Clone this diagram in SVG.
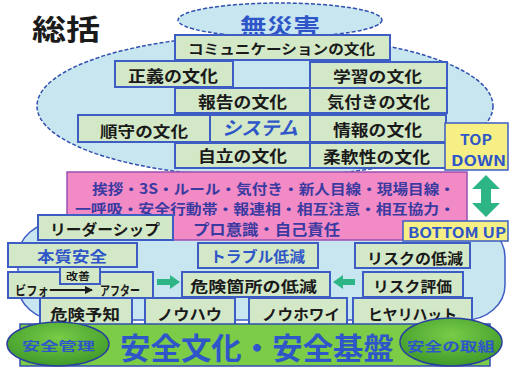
<svg xmlns="http://www.w3.org/2000/svg" width="510" height="368" viewBox="0 0 510 368">
<defs>
<style>
.t{font-family:"Noto Sans CJK JP","Noto Sans",sans-serif;font-weight:bold;fill:#1a1a1a;text-anchor:start}
.b{fill:#2f56c8}
.p{fill:#3a3aa0}
.box{fill:#d3e8c6;stroke:#3d5cc4;stroke-width:2}
.yel{fill:#f6ef86;stroke:#3d5cc4;stroke-width:1.5}
.teal{fill:#2db585}
.ell{fill:url(#gg);stroke:#2a40a0;stroke-width:1.5}
</style>
<radialGradient id="gg" cx="0.5" cy="0.35" r="0.65">
<stop offset="0" stop-color="#78cc48"/>
<stop offset="1" stop-color="#3f9a2a"/>
</radialGradient>
<marker id="ah" markerWidth="8" markerHeight="8" refX="7" refY="4" orient="auto" markerUnits="userSpaceOnUse">
<path d="M0,0 L8,4 L0,8 Z" fill="#1a1a1a"/>
</marker>
</defs>
<rect width="510" height="368" fill="#ffffff"/>
<g id="title"><text class="t" x="32" y="40" font-size="28" textLength="68" lengthAdjust="spacingAndGlyphs">総括</text></g>
<g id="bg">
<ellipse cx="265" cy="106" rx="228" ry="71" fill="#c8e6ef" stroke="#3050b0" stroke-width="1.5" stroke-dasharray="4 2"/>
<rect x="18" y="222" width="487" height="98" rx="40" ry="35" fill="#c8e6ef" stroke="#3d5cc4" stroke-width="1.5"/>
</g>
<g id="n-musaigai">
<ellipse cx="280" cy="20" rx="102" ry="17" fill="#c8e6ef" stroke="#3050b0" stroke-width="1.5" stroke-dasharray="4 2"/>
<text class="t b" x="240" y="34" font-size="22" textLength="80" lengthAdjust="spacingAndGlyphs">無災害</text>
</g>
<g id="n-comm"><rect class="box" x="175" y="35" width="215" height="25"/><text class="t" x="188" y="54" font-size="14" textLength="187" lengthAdjust="spacingAndGlyphs">コミュニケーションの文化</text></g>
<g id="n-seigi"><rect class="box" x="115" y="61" width="118" height="26"/><text class="t" x="128" y="82" font-size="16" textLength="90" lengthAdjust="spacingAndGlyphs">正義の文化</text></g>
<g id="n-gakushu"><rect class="box" x="310" y="62" width="137" height="26"/><text class="t" x="333" y="82" font-size="15" textLength="89" lengthAdjust="spacingAndGlyphs">学習の文化</text></g>
<g id="n-hokoku"><rect class="box" x="175" y="88" width="135" height="25"/><text class="t" x="198" y="108" font-size="16" textLength="89" lengthAdjust="spacingAndGlyphs">報告の文化</text></g>
<g id="n-kizuki"><rect class="box" x="310" y="88" width="137" height="25"/><text class="t" x="327" y="108" font-size="16" textLength="103" lengthAdjust="spacingAndGlyphs">気付きの文化</text></g>
<g id="n-junshu"><rect class="box" x="78" y="115" width="132" height="27"/><text class="t" x="100" y="137" font-size="15" textLength="88" lengthAdjust="spacingAndGlyphs">順守の文化</text></g>
<g id="n-system"><rect class="box" x="210" y="115" width="100" height="27"/><text class="t b" x="222" y="135" font-size="19" textLength="76" lengthAdjust="spacingAndGlyphs" font-style="italic">システム</text></g>
<g id="n-joho"><rect class="box" x="310" y="115" width="136" height="27"/><text class="t" x="333" y="136" font-size="16" textLength="89" lengthAdjust="spacingAndGlyphs">情報の文化</text></g>
<g id="n-jiritsu"><rect class="box" x="175" y="143" width="135" height="25"/><text class="t" x="198" y="162" font-size="16" textLength="89" lengthAdjust="spacingAndGlyphs">自立の文化</text></g>
<g id="n-junan"><rect class="box" x="310" y="143" width="136" height="25"/><text class="t" x="323" y="163" font-size="16" textLength="107" lengthAdjust="spacingAndGlyphs">柔軟性の文化</text></g>
<g id="n-topdown"><rect class="yel" x="445" y="123" width="63" height="47"/>
<text class="t b" x="460" y="145" font-size="14" textLength="32" lengthAdjust="spacingAndGlyphs">TOP</text>
<text class="t b" x="451" y="166" font-size="14" textLength="55" lengthAdjust="spacingAndGlyphs">DOWN</text></g>
<g id="n-pink"><rect x="67" y="172" width="400" height="68" fill="#f28ac6" stroke="#9a50b0" stroke-width="1.5"/>
<text class="t p" x="92" y="194" font-size="14" textLength="363" lengthAdjust="spacingAndGlyphs">挨拶・3S・ルール・気付き・新人目線・現場目線・</text>
<text class="t p" x="75" y="214" font-size="14" textLength="380" lengthAdjust="spacingAndGlyphs">一呼吸・安全行動帯・報連相・相互注意・相互協力・</text>
<text class="t p" x="193" y="235" font-size="15" textLength="147" lengthAdjust="spacingAndGlyphs">プロ意識・自己責任</text></g>
<g id="n-leader"><rect class="box" x="38" y="215" width="135" height="25"/><text class="t" x="50" y="235" font-size="15" textLength="110" lengthAdjust="spacingAndGlyphs">リーダーシップ</text></g>
<g id="n-bottomup"><rect class="yel" x="403" y="221" width="105" height="20"/><text class="t b" x="408" y="238" font-size="14" textLength="98" lengthAdjust="spacingAndGlyphs">BOTTOM UP</text></g>
<g id="n-honshitsu"><rect class="box" x="8" y="243" width="129" height="24"/><text class="t b" x="37" y="262" font-size="15" textLength="70" lengthAdjust="spacingAndGlyphs">本質安全</text></g>
<g id="n-trouble"><rect class="box" x="198" y="243" width="120" height="25"/><text class="t b" x="210" y="262" font-size="15" textLength="95" lengthAdjust="spacingAndGlyphs">トラブル低減</text></g>
<g id="n-risklow"><rect class="box" x="355" y="243" width="115" height="25"/><text class="t" x="367" y="264" font-size="15" textLength="96" lengthAdjust="spacingAndGlyphs">リスクの低減</text></g>
<g id="n-beforeafter"><rect class="box" x="8" y="272" width="145" height="26"/>
<text class="t" x="15" y="295" font-size="13" textLength="45" lengthAdjust="spacingAndGlyphs">ビフォー</text>
<text class="t" x="100" y="295" font-size="13" textLength="40" lengthAdjust="spacingAndGlyphs">アフター</text>
<line x1="58" y1="290" x2="92" y2="290" stroke="#1a1a1a" stroke-width="2" marker-end="url(#ah)"/></g>
<g id="n-kaizen"><rect class="box" x="60" y="267" width="40" height="17" stroke-width="1.5"/><text class="t" x="66" y="280" font-size="10" textLength="24" lengthAdjust="spacingAndGlyphs">改善</text></g>
<g id="n-kiken"><rect class="box" x="182" y="272" width="148" height="25"/><text class="t" x="190" y="292" font-size="15" textLength="127" lengthAdjust="spacingAndGlyphs">危険箇所の低減</text></g>
<g id="n-riskhyoka"><rect class="box" x="363" y="272" width="100" height="25"/><text class="t" x="373" y="292" font-size="15" textLength="79" lengthAdjust="spacingAndGlyphs">リスク評価</text></g>
<g id="n-kikenyochi"><rect class="box" x="40" y="298" width="92" height="27"/><text class="t" x="50" y="320" font-size="15" textLength="70" lengthAdjust="spacingAndGlyphs">危険予知</text></g>
<g id="n-knowhow"><rect class="box" x="145" y="298" width="90" height="27"/><text class="t" x="157" y="320" font-size="15" textLength="65" lengthAdjust="spacingAndGlyphs">ノウハウ</text></g>
<g id="n-knowwhy"><rect class="box" x="249" y="298" width="98" height="27"/><text class="t" x="262" y="320" font-size="15" textLength="78" lengthAdjust="spacingAndGlyphs">ノウホワイ</text></g>
<g id="n-hiyari"><rect class="box" x="353" y="298" width="119" height="27"/><text class="t" x="368" y="320" font-size="15" textLength="89" lengthAdjust="spacingAndGlyphs">ヒヤリハット</text></g>
<g id="n-base"><rect x="20" y="324" width="470" height="42" fill="#7ccc48" stroke="#3050b0" stroke-width="1.5"/>
<text class="t b" x="120" y="359" font-size="30" font-weight="normal" textLength="274" lengthAdjust="spacingAndGlyphs">安全文化・安全基盤</text></g>
<g id="n-kanri"><ellipse class="ell" cx="58" cy="344" rx="51" ry="22"/><text class="t b" x="22" y="351" font-size="12" textLength="73" lengthAdjust="spacingAndGlyphs">安全管理</text></g>
<g id="n-torikumi"><ellipse class="ell" cx="451" cy="342" rx="51" ry="24"/><text class="t b" x="407" y="351" font-size="13" textLength="88" lengthAdjust="spacingAndGlyphs">安全の取組</text></g>
<g id="connectors">
<polygon class="teal" points="486,175 500,189 491,189 491,203 500,203 486,217 472,203 481,203 481,189 472,189"/>
<polygon class="teal" points="157,279 170,279 170,275 180,282 170,289 170,285 157,285"/>
<polygon class="teal" points="355,279 343,279 343,275 333,282 343,289 343,285 355,285"/>
</g>
</svg>
